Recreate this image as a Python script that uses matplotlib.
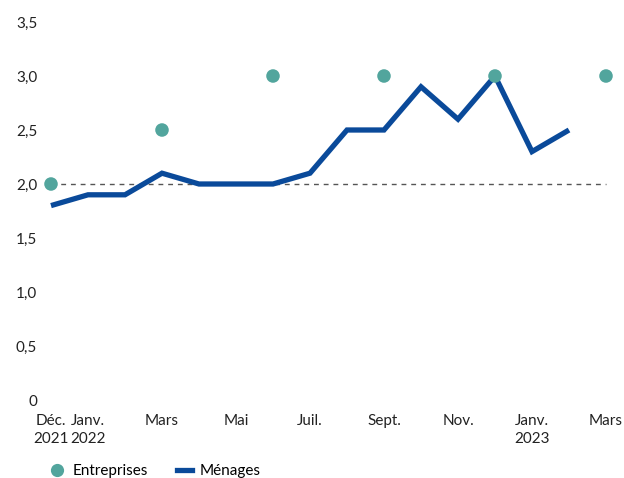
import matplotlib
matplotlib.use("Agg")
import matplotlib.pyplot as plt
from matplotlib.lines import Line2D

plt.rcParams['font.family'] = ['Lato', 'DejaVu Sans']

# Monthly index: 0 = Déc. 2021 ... 15 = Mars 2023
months_menages = list(range(15))
menages = [1.8, 1.9, 1.9, 2.1, 2.0, 2.0, 2.0, 2.1, 2.5, 2.5, 2.9, 2.6, 3.0, 2.3, 2.5]

months_entreprises = [0, 3, 6, 9, 12, 15]
entreprises = [2.0, 2.5, 3.0, 3.0, 3.0, 3.0]

target = 2.0

xtick_pos = [0, 1, 3, 5, 7, 9, 11, 13, 15]
xtick_labels = ["Déc.\n2021", "Janv.\n2022", "Mars", "Mai", "Juil.", "Sept.",
                "Nov.", "Janv.\n2023", "Mars"]
ytick_pos = [0, 0.5, 1.0, 1.5, 2.0, 2.5, 3.0, 3.5]
ytick_labels = ["0", "0,5", "1,0", "1,5", "2,0", "2,5", "3,0", "3,5"]

blue = "#0A4A9A"
teal = "#52A59D"
fs = 11

W, H = 624, 478
fig = plt.figure(figsize=(W / 100, H / 100), dpi=100)

x0_px, x15_px = 51, 606
px_per_month = (x15_px - x0_px) / 15
pad = 0.3
left_px = x0_px - pad * px_per_month
right_px = x15_px + pad * px_per_month
top_px, bottom_px = 22, 400
ax = fig.add_axes([left_px / W, 1 - bottom_px / H,
                   (right_px - left_px) / W, (bottom_px - top_px) / H])

ax.set_xlim(-pad, 15 + pad)
ax.set_ylim(0, 3.5)

ax.plot([0, 15], [target, target], ls=(0, (3.5, 3.5)), color="#555555", lw=1.0, zorder=1)
ax.plot(months_menages, menages, color=blue, lw=3.8, solid_joinstyle="miter",
        solid_capstyle="butt", zorder=2)
ax.scatter(months_entreprises, entreprises, s=95, color=teal, edgecolors="none", zorder=3)

for s in ax.spines.values():
    s.set_visible(False)
ax.set_xticks(xtick_pos)
ax.set_xticklabels(xtick_labels, fontsize=fs, color="#222222", linespacing=1.35)
ax.set_yticks(ytick_pos)
ax.set_yticklabels(ytick_labels, fontsize=fs, color="#222222")
ax.tick_params(axis="both", length=0)
ax.tick_params(axis="x", pad=10)
ax.tick_params(axis="y", pad=2)

handles = [
    Line2D([], [], marker="o", ls="none", color=teal, markersize=9.5, markeredgewidth=0),
    Line2D([], [], color=blue, lw=3.8),
]
fig.legend(handles, ["Entreprises", "Ménages"], loc="lower left",
           bbox_to_anchor=(36 / W, -14 / H), ncol=2, frameon=False, fontsize=fs,
           handlelength=1.0, handletextpad=0.5, columnspacing=1.9)

fig.savefig("out.png", dpi=100)
